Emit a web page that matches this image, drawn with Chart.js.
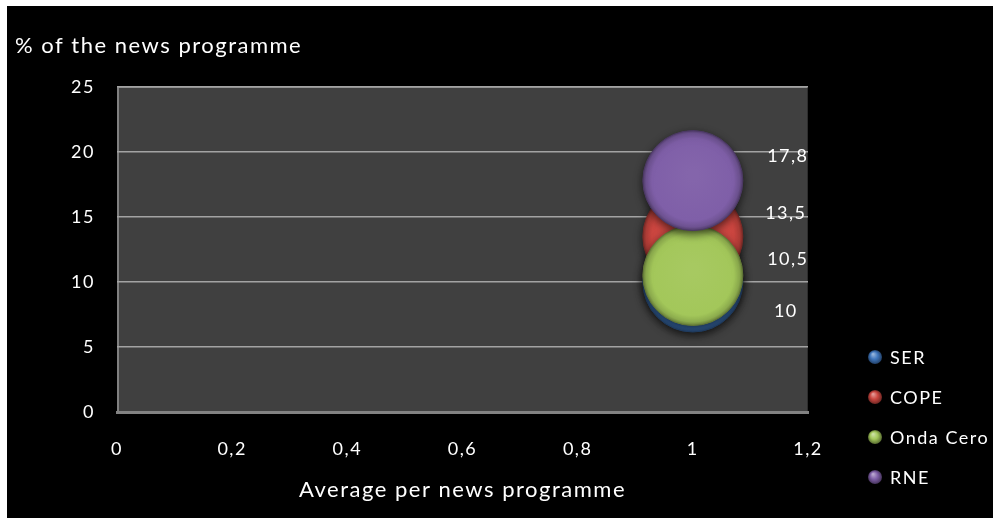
<!DOCTYPE html>
<html>
<head>
<meta charset="utf-8">
<script src="https://cdn.jsdelivr.net/npm/chart.js@4.4.1/dist/chart.umd.min.js"></script>
<style>
  html, body { margin: 0; background: #000; overflow: hidden; }
  #frame {
    position: absolute; left: 0; top: 0; width: 993px; height: 518px;
    box-sizing: border-box; border-left: 7px solid #fff; border-top: 6px solid #fff;
  }
  #wrap { position: relative; width: 986px; height: 512px; }
</style>
</head>
<body>
<div id="frame"><div id="wrap"><canvas id="chart"></canvas></div></div>
<script>
// Series data
const stations = ["SER", "COPE", "Onda Cero", "RNE"];
const avgPerProgramme = [1, 1, 1, 1];
const shareOfProgramme = [10, 13.5, 10.5, 17.8];
const bubbleSizes = [1, 1, 1, 1];

// Axis ticks
const xTicks = [0, 0.2, 0.4, 0.6, 0.8, 1, 1.2];
const yTicks = [0, 5, 10, 15, 20, 25];

// Styling
const seriesColors = ["#3f76bd", "#cc4640", "#a3c75a", "#7f5fa8"];
const labelOffsets = [[93, 29], [93, -23], [95, -16], [95, -24]];
const BUBBLE_PX = 50;
const FONT = "Lato";
const SPACING = "1.5px";

const comma = (v) => String(Number(v.toFixed(1))).replace(".", ",");

function shade(hex, f) {
  const n = parseInt(hex.slice(1), 16);
  const ch = [(n >> 16) & 255, (n >> 8) & 255, n & 255].map((c) =>
    Math.round(f < 0 ? c * (1 + f) : c + (255 - c) * f)
  );
  return `rgb(${ch[0]},${ch[1]},${ch[2]})`;
}

// Bevelled fill for each bubble
function bubbleFill(color) {
  return (c) => {
    const chart = c.chart;
    if (c.type !== "data" || !chart.scales.x || !c.raw) return color;
    const px = chart.scales.x.getPixelForValue(c.raw.x);
    const py = chart.scales.y.getPixelForValue(c.raw.y);
    const r = c.raw.r;
    if (![px, py, r].every(Number.isFinite)) return color;
    const g = chart.ctx.createRadialGradient(px, py - r * 0.12, r * 0.1, px, py, r);
    g.addColorStop(0, shade(color, 0.04));
    g.addColorStop(0.8, color);
    g.addColorStop(0.93, shade(color, -0.12));
    g.addColorStop(1, shade(color, -0.35));
    return g;
  };
}

const datasets = stations.map((name, i) => ({
  label: name,
  data: [{ x: avgPerProgramme[i], y: shareOfProgramme[i], r: Math.sqrt(bubbleSizes[i]) * BUBBLE_PX }],
  backgroundColor: bubbleFill(seriesColors[i]),
  borderColor: shade(seriesColors[i], -0.4),
  borderWidth: 1,
  order: stations.length - i,
}));

// Wider letter spacing for all chart text
const textSpacing = {
  id: "textSpacing",
  beforeUpdate(chart) { chart.ctx.letterSpacing = SPACING; },
  beforeDraw(chart) { chart.ctx.letterSpacing = SPACING; },
};

const plotBackground = {
  id: "plotBackground",
  beforeDraw(chart) {
    const { ctx, chartArea: a } = chart;
    ctx.save();
    ctx.fillStyle = "#404040";
    ctx.fillRect(a.left, a.top, a.right - a.left, a.bottom - a.top);
    ctx.fillStyle = "#808080";
    ctx.fillRect(a.left, a.top - 1, 2, a.bottom - a.top + 1);
    ctx.fillRect(a.left, a.top - 1, a.right - a.left, 2);
    ctx.fillStyle = "#2e2e2e";
    ctx.fillRect(a.right - 1, a.top, 1, a.bottom - a.top);
    ctx.restore();
  },
};

const bubbleShadow = {
  id: "bubbleShadow",
  beforeDatasetDraw(chart) {
    const ctx = chart.ctx;
    ctx.save();
    ctx.shadowColor = "rgba(0,0,0,0.6)";
    ctx.shadowBlur = 9;
    ctx.shadowOffsetY = 3;
  },
  afterDatasetDraw(chart) {
    chart.ctx.restore();
  },
};

const valueLabels = {
  id: "valueLabels",
  afterDatasetsDraw(chart) {
    const ctx = chart.ctx;
    ctx.save();
    ctx.fillStyle = "#fff";
    ctx.font = `18px ${FONT}`;
    ctx.textAlign = "center";
    ctx.textBaseline = "middle";
    chart.data.datasets.forEach((ds, i) => {
      const el = chart.getDatasetMeta(i).data[0];
      ctx.fillText(comma(ds.data[0].y), el.x + labelOffsets[i][0], el.y + labelOffsets[i][1]);
    });
    ctx.restore();
  },
};

// Vertical legend with shaded spheres, bottom right
const sphereLegend = {
  id: "sphereLegend",
  afterDraw(chart) {
    const ctx = chart.ctx;
    const x = 868, y0 = 351, step = 40, r = 7;
    ctx.save();
    ctx.font = `18px ${FONT}`;
    ctx.textBaseline = "middle";
    chart.data.datasets.forEach((ds, i) => {
      const y = y0 + i * step;
      const col = seriesColors[i];
      const g = ctx.createRadialGradient(x - 2, y - 3, 0.5, x, y, r);
      g.addColorStop(0, shade(col, 0.45));
      g.addColorStop(0.5, col);
      g.addColorStop(1, shade(col, -0.45));
      ctx.beginPath();
      ctx.arc(x, y, r, 0, Math.PI * 2);
      ctx.fillStyle = g;
      ctx.fill();
      ctx.fillStyle = "#fff";
      ctx.fillText(ds.label, x + 15, y + 1);
    });
    ctx.restore();
  },
};

new Chart(document.getElementById("chart"), {
  type: "bubble",
  data: { datasets },
  options: {
    responsive: true,
    maintainAspectRatio: false,
    animation: false,
    layout: { padding: { left: 8, top: 0, right: 185, bottom: 0 } },
    plugins: {
      legend: { display: false },
      tooltip: { enabled: false },
      title: {
        display: true,
        text: "% of the news programme",
        align: "start",
        color: "#fff",
        font: { family: FONT, size: 22, weight: "normal" },
        padding: { top: 26.8, bottom: 27.8 },
      },
    },
    scales: {
      x: {
        type: "linear",
        min: 0,
        max: 1.2,
        afterBuildTicks: (s) => { s.ticks = xTicks.map((v) => ({ value: v })); },
        afterFit: (s) => { s.height = 106; },
        grid: { display: false, drawTicks: false },
        border: { display: true, color: "#828282", width: 3 },
        ticks: {
          color: "#fff",
          padding: 26,
          maxRotation: 0,
          font: { family: FONT, size: 18 },
          callback: (v) => comma(v),
        },
        title: {
          display: true,
          text: "Average per news programme",
          color: "#fff",
          font: { family: FONT, size: 22 },
          padding: { top: 0, bottom: 15 },
        },
      },
      y: {
        type: "linear",
        min: 0,
        max: 25,
        afterBuildTicks: (s) => { s.ticks = yTicks.map((v) => ({ value: v })); },
        afterFit: (s) => { s.width = 102; },
        grid: { color: "#a3a3a3", lineWidth: 1.5, drawTicks: false },
        border: { display: false },
        ticks: {
          color: "#fff",
          padding: 22,
          font: { family: FONT, size: 18 },
          callback: (v) => comma(v),
        },
      },
    },
  },
  plugins: [textSpacing, plotBackground, bubbleShadow, valueLabels, sphereLegend],
});
</script>
</body>
</html>
